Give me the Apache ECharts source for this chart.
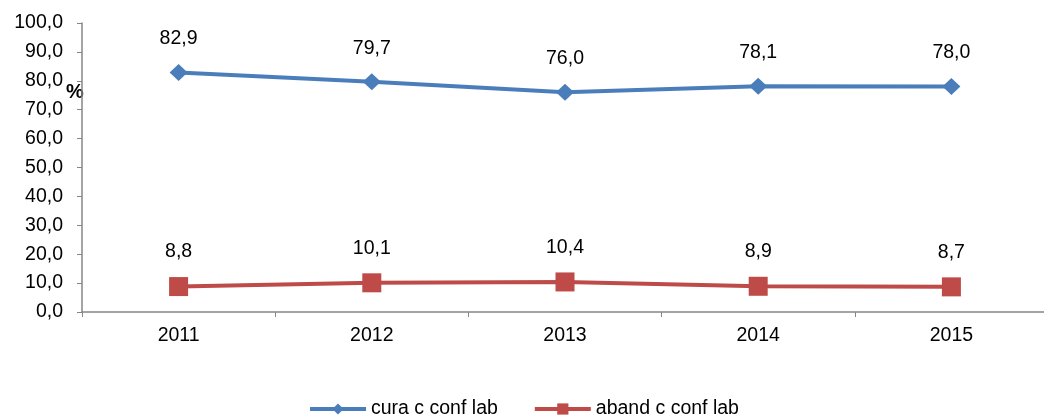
<!DOCTYPE html>
<html>
<head>
<meta charset="utf-8">
<style>html,body{margin:0;padding:0;background:#fff;overflow:hidden;width:1044px;height:417px;}#c{width:1048px;height:417px;}</style>
<script src="https://cdn.jsdelivr.net/npm/echarts@6/dist/echarts.min.js"></script>
</head>
<body>
<div id="c"></div>
<script>
const categories = ['2011', '2012', '2013', '2014', '2015'];
const curaValues = [82.9, 79.7, 76.0, 78.1, 78.0];
const abandValues = [8.8, 10.1, 10.4, 8.9, 8.7];
const seriesNames = ['cura c conf lab', 'aband c conf lab'];

const fmt = v => Number(v).toFixed(1).replace('.', ',');
const font = 'Liberation Sans, Arial, sans-serif';
const FS = 19.5;
const chart = echarts.init(document.getElementById('c'), null, {renderer: 'canvas'});
chart.setOption({
  animation: false,
  backgroundColor: '#fff',
  grid: {left: 82, right: 0, top: 23, bottom: 105, containLabel: false},
  graphic: [{type: 'text', left: 66, top: 82, style: {text: '%', font: 'bold 20px ' + font, fill: '#000'}}],
  legend: {
    top: 394, left: 303, itemWidth: 56, itemHeight: 14, itemGap: 35,
    textStyle: {fontFamily: font, fontSize: FS, color: '#000'},
    lineStyle: {width: 4},
    data: seriesNames
  },
  xAxis: {
    type: 'category', data: categories, boundaryGap: true,
    axisLine: {lineStyle: {color: '#868686', width: 1.5}},
    axisTick: {show: true, length: 5, inside: false, lineStyle: {color: '#868686'}},
    axisLabel: {margin: 14, fontFamily: font, fontSize: FS, color: '#000'}
  },
  yAxis: {
    type: 'value', min: 0, max: 100, interval: 10,
    splitLine: {show: false},
    axisLine: {show: true, lineStyle: {color: '#868686', width: 1.5}},
    axisTick: {show: true, length: 5, lineStyle: {color: '#868686'}},
    axisLabel: {margin: 19, fontFamily: font, fontSize: FS, color: '#000', formatter: fmt}
  },
  series: [
    {
      name: seriesNames[0], type: 'line', data: curaValues,
      symbol: 'diamond', symbolSize: [18, 17],
      lineStyle: {color: '#4a7ebb', width: 4},
      itemStyle: {color: '#4a7ebb'},
      label: {show: true, position: 'top', distance: 15, fontFamily: font, fontSize: FS, color: '#000', formatter: p => fmt(p.value)}
    },
    {
      name: seriesNames[1], type: 'line', data: abandValues,
      symbol: 'rect', symbolSize: 19,
      lineStyle: {color: '#be4b48', width: 4},
      itemStyle: {color: '#be4b48'},
      label: {show: true, position: 'top', distance: 15, fontFamily: font, fontSize: FS, color: '#000', formatter: p => fmt(p.value)}
    }
  ]
});
</script>
</body>
</html>
